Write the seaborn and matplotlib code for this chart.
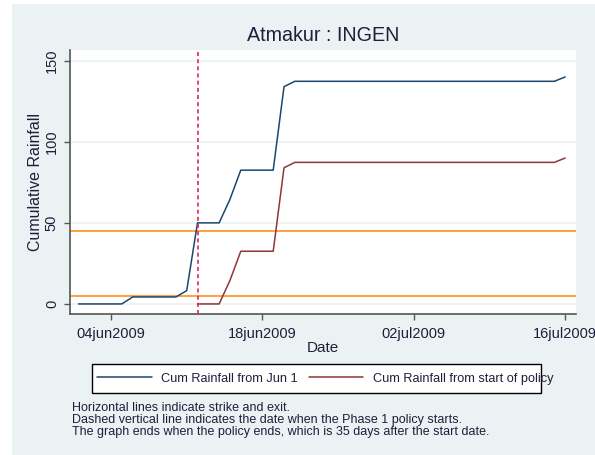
import matplotlib
matplotlib.use("Agg")
import matplotlib.pyplot as plt
from matplotlib.patches import Rectangle
import seaborn as sns
import pandas as pd

# ---- data ----
start_date = "2009-06-01"
end_date = "2009-07-16"
cum_from_jun1 = [0, 0, 0, 0, 0, 4.3, 4.3, 4.3, 4.3, 4.3, 8.2,
                 50, 50, 50, 64.5, 82.5, 82.5, 82.5, 82.5, 134, 137.3,
                 137.3, 137.3, 137.3, 137.3, 137.3, 137.3, 137.3, 137.3, 137.3, 137.3,
                 137.3, 137.3, 137.3, 137.3, 137.3, 137.3, 137.3, 137.3, 137.3, 137.3,
                 137.3, 137.3, 137.3, 137.3, 140]
policy_start = "2009-06-12"
cum_from_policy = [0, 0, 0, 14.5, 32.5, 32.5, 32.5, 32.5, 84, 87.3,
                   87.3, 87.3, 87.3, 87.3, 87.3, 87.3, 87.3, 87.3, 87.3, 87.3,
                   87.3, 87.3, 87.3, 87.3, 87.3, 87.3, 87.3, 87.3, 87.3, 87.3,
                   87.3, 87.3, 87.3, 87.3, 90]
strike = 45
exit_level = 5
ytick_vals = [0, 50, 100, 150]
xtick_dates = ["2009-06-04", "2009-06-18", "2009-07-02", "2009-07-16"]
xtick_labels = ["04jun2009", "18jun2009", "02jul2009", "16jul2009"]
title = "Atmakur : INGEN"
series_names = ["Cum Rainfall from Jun 1", "Cum Rainfall from start of policy"]
notes = ("Horizontal lines indicate strike and exit.\n"
         "Dashed vertical line indicates the date when the Phase 1 policy starts.\n"
         "The graph ends when the policy ends, which is 35 days after the start date.")

dates_all = pd.date_range(start_date, end_date)
dates_pol = pd.date_range(policy_start, end_date)
df1 = pd.DataFrame({"Date": dates_all, "val": cum_from_jun1})
df2 = pd.DataFrame({"Date": dates_pol, "val": cum_from_policy})

sns.set_theme(style="white")
plt.rcParams["font.family"] = ["Liberation Sans", "DejaVu Sans"]

BG = "#EAF2F3"
BLUE = "#1A476F"
RED = "#90353B"
ORANGE = "#FF9A2E"
DASH = "#E0245E"
TXT = "#1f1f3a"
W, H = 595, 455

fig = plt.figure(figsize=(W / 100, H / 100), dpi=100)
fig.patch.set_facecolor("white")
fig.patches.append(Rectangle((12 / W, 0), 1, 451 / H, transform=fig.transFigure,
                             facecolor=BG, edgecolor="none", zorder=-10))

ax = fig.add_axes([70 / W, 1 - 314 / H, (576 - 70) / W, (314 - 50) / H])
ax.set_facecolor("white")

for v in ytick_vals:
    ax.axhline(v, color=BG, lw=1.2, zorder=0)

sns.lineplot(data=df1, x="Date", y="val", ax=ax, color=BLUE, lw=1.1, label=series_names[0])
sns.lineplot(data=df2, x="Date", y="val", ax=ax, color=RED, lw=1.1, label=series_names[1])
ax.axhline(strike, color=ORANGE, lw=1.3, zorder=1)
ax.axhline(exit_level, color=ORANGE, lw=1.3, zorder=1)
ax.axvline(pd.Timestamp(policy_start), color=DASH, lw=1.2, ls=(0, (2.4, 1.9)), zorder=3)

ax.set_xlim(pd.Timestamp("2009-05-31 05:00"), pd.Timestamp("2009-07-17 00:00"))
ax.set_ylim(-6.2, 156.6)
ax.set_xticks([pd.Timestamp(d) for d in xtick_dates])
ax.set_xticklabels(xtick_labels, fontsize=10.5, color=TXT)
ax.set_yticks(ytick_vals)
ax.set_yticklabels([str(v) for v in ytick_vals], fontsize=10.5, color=TXT, rotation=90, va="center")
ax.tick_params(axis="both", direction="out", length=4, width=1, color="#555555",
               bottom=True, left=True)
ax.tick_params(axis="x", pad=5.5)
ax.tick_params(axis="y", pad=4)
for s in ["top", "right"]:
    ax.spines[s].set_visible(False)
for s in ["left", "bottom"]:
    ax.spines[s].set_color("#555555")
    ax.spines[s].set_linewidth(1.2)
ax.set_xlabel("Date", fontsize=11, color=TXT, labelpad=0)
ax.set_ylabel("Cumulative Rainfall", fontsize=11.5, color=TXT, labelpad=1)
ax.set_title(title, fontsize=14.2, color=TXT, pad=6.7)

ax.get_legend().remove()
h, l = ax.get_legend_handles_labels()
# legend frame (box), then entries
fig.patches.append(Rectangle((91.7 / W, 1 - 393.3 / H), (541 - 91.7) / W, 29 / H,
                             transform=fig.transFigure, facecolor="white",
                             edgecolor="black", lw=1.0, zorder=1))
leg = fig.legend(h, l, loc="center left", ncol=2,
                 bbox_to_anchor=(97.3 / W, 1 - 378.8 / H),
                 fontsize=9.2, frameon=False, handlelength=4.25, handletextpad=0.73,
                 columnspacing=0.9, borderpad=0, borderaxespad=0)
for t in leg.get_texts():
    t.set_color(TXT)

fig.text(72 / W, 1 - 420 / H, notes, fontsize=9.0, color=TXT, va="center", ha="left",
         linespacing=1.0)

fig.savefig("out.png", dpi=100, facecolor=fig.get_facecolor())
